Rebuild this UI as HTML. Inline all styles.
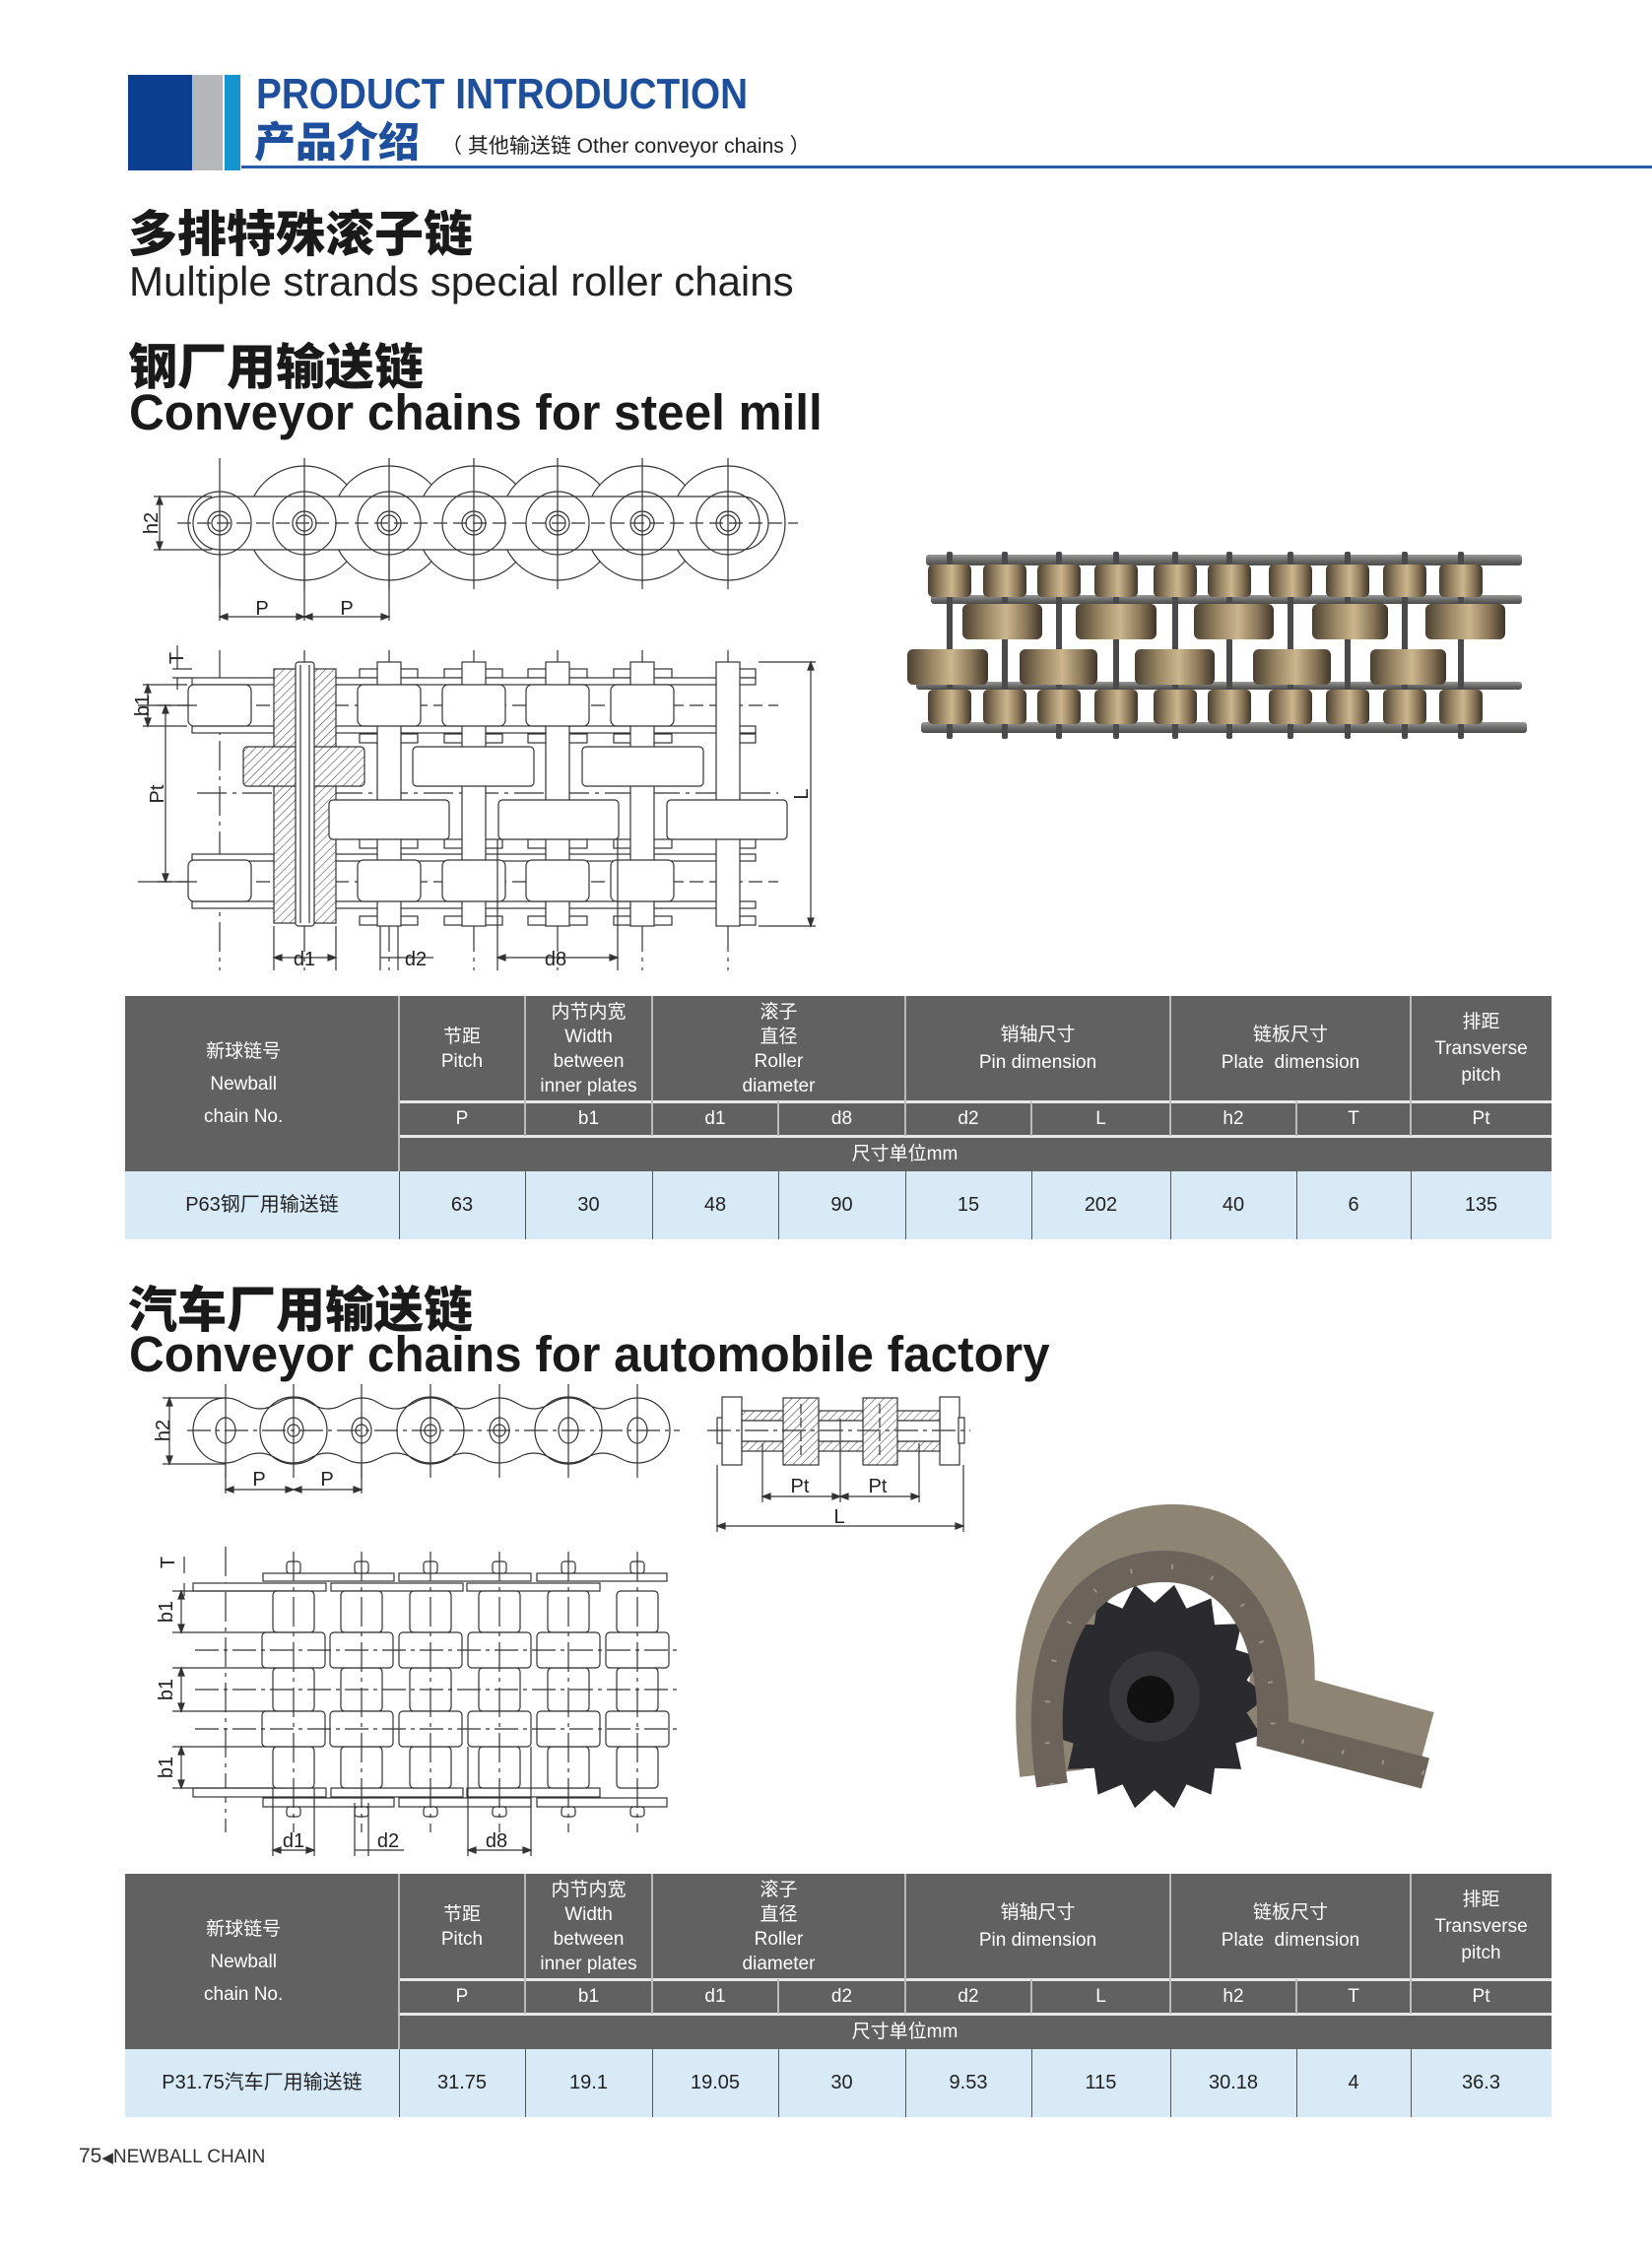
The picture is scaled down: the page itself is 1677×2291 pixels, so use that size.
<!DOCTYPE html>
<html><head><meta charset="utf-8">
<style>
*{margin:0;padding:0;box-sizing:border-box}
body{width:1677px;height:2291px;position:relative;background:#fff;overflow:hidden;font-family:"Liberation Sans","Noto Sans CJK SC",sans-serif;color:#222}
.a{position:absolute;white-space:nowrap}
.cn{font-family:"Noto Sans CJK SC","WenQuanYi Zen Hei",sans-serif;font-weight:900}
.tbl{position:absolute;left:127px;width:1448px;height:247px}
.hd{position:absolute;background:#616161}
.c{position:absolute;display:flex;flex-direction:column;align-items:center;justify-content:center;text-align:center;color:#fff;font:19px/25px "Liberation Sans Narrow","Liberation Sans","Noto Sans CJK SC",sans-serif}
.dt{color:#222;font-size:20px}
.ln{position:absolute;background:#e8e8e8}
.dl{position:absolute;background:#555;width:1px}
svg text{font-family:"Liberation Sans",sans-serif;font-size:20px;fill:#222}
</style></head><body>

<div class="a" style="left:130px;top:76px;width:65px;height:97px;background:#0c3f8f"></div>
<div class="a" style="left:195px;top:76px;width:31px;height:97px;background:#b5b7ba"></div>
<div class="a" style="left:228px;top:76px;width:16px;height:97px;background:#1495cf"></div>
<div class="a" style="left:245px;top:168px;width:1432px;height:3px;background:#2a5aa8"></div>
<div class="a" style="left:260px;top:74px;font:bold 44px/44px 'Liberation Sans',sans-serif;color:#1d4f9c;transform:scaleX(0.88);transform-origin:0 0">PRODUCT INTRODUCTION</div>
<div class="a cn" style="left:258px;top:116px;font-size:42px;line-height:52px;color:#1d4f9c">产品介绍</div>
<div class="a" style="left:448px;top:136px;font:21px/26px 'Liberation Sans','Noto Sans CJK SC',sans-serif;color:#222">（ 其他输送链 Other conveyor chains ）</div>

<div class="a cn" style="left:130px;top:203px;font-size:50px;line-height:62px;color:#1a1a1a">多排特殊滚子链</div>
<div class="a" style="left:131px;top:262px;font:42px/48px 'Liberation Sans',sans-serif;color:#222">Multiple strands special roller chains</div>
<div class="a cn" style="left:130px;top:338px;font-size:50px;line-height:62px;color:#1a1a1a">钢厂用输送链</div>
<div class="a" style="left:131px;top:391px;font:bold 51px/56px 'Liberation Sans',sans-serif;color:#1a1a1a;transform:scaleX(0.97);transform-origin:0 0">Conveyor chains for steel mill</div>

<div class="a cn" style="left:130px;top:1295px;font-size:50px;line-height:62px;color:#1a1a1a">汽车厂用输送链</div>
<div class="a" style="left:131px;top:1347px;font:bold 51px/56px 'Liberation Sans',sans-serif;color:#1a1a1a;transform:scaleX(0.97);transform-origin:0 0">Conveyor chains for automobile factory</div>

<div class="tbl" style="top:1011px">
 <div class="hd" style="left:0;top:0;width:1448px;height:178px"></div>
 <div class="a" style="left:0;top:178px;width:1448px;height:69px;background:#d8eaf6"></div>
 <div class="ln" style="left:278px;top:106px;width:1170px;height:3px"></div>
 <div class="ln" style="left:278px;top:141px;width:1170px;height:3px"></div>
 <div class="ln" style="left:277px;top:0;width:2px;height:178px;background:#bbb"></div>
 <div class="ln" style="left:405px;top:0;width:2px;height:142px;background:#bbb"></div>
 <div class="ln" style="left:534px;top:0;width:2px;height:142px;background:#bbb"></div>
 <div class="ln" style="left:662px;top:107px;width:2px;height:35px;background:#bbb"></div>
 <div class="ln" style="left:791px;top:0;width:2px;height:142px;background:#bbb"></div>
 <div class="ln" style="left:919px;top:107px;width:2px;height:35px;background:#bbb"></div>
 <div class="ln" style="left:1060px;top:0;width:2px;height:142px;background:#bbb"></div>
 <div class="ln" style="left:1188px;top:107px;width:2px;height:35px;background:#bbb"></div>
 <div class="ln" style="left:1304px;top:0;width:2px;height:142px;background:#bbb"></div>
 <div class="dl" style="left:278px;top:178px;height:69px"></div><div class="dl" style="left:406px;top:178px;height:69px"></div><div class="dl" style="left:535px;top:178px;height:69px"></div><div class="dl" style="left:663px;top:178px;height:69px"></div><div class="dl" style="left:792px;top:178px;height:69px"></div><div class="dl" style="left:920px;top:178px;height:69px"></div><div class="dl" style="left:1061px;top:178px;height:69px"></div><div class="dl" style="left:1189px;top:178px;height:69px"></div><div class="dl" style="left:1305px;top:178px;height:69px"></div>
 <div class="c" style="left:80px;top:0;width:198px;height:178px;align-items:flex-start;line-height:33px">新球链号<br>Newball<br>chain No.</div>
 <div class="c" style="left:278px;top:0;width:128px;height:107px">节距<br>Pitch</div>
 <div class="c" style="left:406px;top:0;width:129px;height:107px">内节内宽<br>Width<br>between<br>inner plates</div>
 <div class="c" style="left:535px;top:0;width:257px;height:107px">滚子<br>直径<br>Roller<br>diameter</div>
 <div class="c" style="left:792px;top:0;width:269px;height:107px;line-height:28px">销轴尺寸<br>Pin dimension</div>
 <div class="c" style="left:1061px;top:0;width:244px;height:107px;line-height:28px">链板尺寸<br>Plate&nbsp; dimension</div>
 <div class="c" style="left:1305px;top:0;width:143px;height:107px;line-height:27px">排距<br>Transverse<br>pitch</div>
 <div class="c" style="left:278px;top:107px;width:128px;height:35px">P</div>
 <div class="c" style="left:406px;top:107px;width:129px;height:35px">b1</div>
 <div class="c" style="left:535px;top:107px;width:128px;height:35px">d1</div>
 <div class="c" style="left:663px;top:107px;width:129px;height:35px">d8</div>
 <div class="c" style="left:792px;top:107px;width:128px;height:35px">d2</div>
 <div class="c" style="left:920px;top:107px;width:141px;height:35px">L</div>
 <div class="c" style="left:1061px;top:107px;width:128px;height:35px">h2</div>
 <div class="c" style="left:1189px;top:107px;width:116px;height:35px">T</div>
 <div class="c" style="left:1305px;top:107px;width:143px;height:35px">Pt</div>
 <div class="c" style="left:278px;top:142px;width:1027px;height:36px">尺寸单位mm</div>
 <div class="c dt" style="left:0;top:178px;width:278px;height:69px">P63钢厂用输送链</div>
 <div class="c dt" style="left:278px;top:178px;width:128px;height:69px">63</div>
 <div class="c dt" style="left:406px;top:178px;width:129px;height:69px">30</div>
 <div class="c dt" style="left:535px;top:178px;width:128px;height:69px">48</div>
 <div class="c dt" style="left:663px;top:178px;width:129px;height:69px">90</div>
 <div class="c dt" style="left:792px;top:178px;width:128px;height:69px">15</div>
 <div class="c dt" style="left:920px;top:178px;width:141px;height:69px">202</div>
 <div class="c dt" style="left:1061px;top:178px;width:128px;height:69px">40</div>
 <div class="c dt" style="left:1189px;top:178px;width:116px;height:69px">6</div>
 <div class="c dt" style="left:1305px;top:178px;width:143px;height:69px">135</div>
</div>

<div class="tbl" style="top:1902px">
 <div class="hd" style="left:0;top:0;width:1448px;height:178px"></div>
 <div class="a" style="left:0;top:178px;width:1448px;height:69px;background:#d8eaf6"></div>
 <div class="ln" style="left:278px;top:106px;width:1170px;height:3px"></div>
 <div class="ln" style="left:278px;top:141px;width:1170px;height:3px"></div>
 <div class="ln" style="left:277px;top:0;width:2px;height:178px;background:#bbb"></div>
 <div class="ln" style="left:405px;top:0;width:2px;height:142px;background:#bbb"></div>
 <div class="ln" style="left:534px;top:0;width:2px;height:142px;background:#bbb"></div>
 <div class="ln" style="left:662px;top:107px;width:2px;height:35px;background:#bbb"></div>
 <div class="ln" style="left:791px;top:0;width:2px;height:142px;background:#bbb"></div>
 <div class="ln" style="left:919px;top:107px;width:2px;height:35px;background:#bbb"></div>
 <div class="ln" style="left:1060px;top:0;width:2px;height:142px;background:#bbb"></div>
 <div class="ln" style="left:1188px;top:107px;width:2px;height:35px;background:#bbb"></div>
 <div class="ln" style="left:1304px;top:0;width:2px;height:142px;background:#bbb"></div>
 <div class="dl" style="left:278px;top:178px;height:69px"></div><div class="dl" style="left:406px;top:178px;height:69px"></div><div class="dl" style="left:535px;top:178px;height:69px"></div><div class="dl" style="left:663px;top:178px;height:69px"></div><div class="dl" style="left:792px;top:178px;height:69px"></div><div class="dl" style="left:920px;top:178px;height:69px"></div><div class="dl" style="left:1061px;top:178px;height:69px"></div><div class="dl" style="left:1189px;top:178px;height:69px"></div><div class="dl" style="left:1305px;top:178px;height:69px"></div>
 <div class="c" style="left:80px;top:0;width:198px;height:178px;align-items:flex-start;line-height:33px">新球链号<br>Newball<br>chain No.</div>
 <div class="c" style="left:278px;top:0;width:128px;height:107px">节距<br>Pitch</div>
 <div class="c" style="left:406px;top:0;width:129px;height:107px">内节内宽<br>Width<br>between<br>inner plates</div>
 <div class="c" style="left:535px;top:0;width:257px;height:107px">滚子<br>直径<br>Roller<br>diameter</div>
 <div class="c" style="left:792px;top:0;width:269px;height:107px;line-height:28px">销轴尺寸<br>Pin dimension</div>
 <div class="c" style="left:1061px;top:0;width:244px;height:107px;line-height:28px">链板尺寸<br>Plate&nbsp; dimension</div>
 <div class="c" style="left:1305px;top:0;width:143px;height:107px;line-height:27px">排距<br>Transverse<br>pitch</div>
 <div class="c" style="left:278px;top:107px;width:128px;height:35px">P</div>
 <div class="c" style="left:406px;top:107px;width:129px;height:35px">b1</div>
 <div class="c" style="left:535px;top:107px;width:128px;height:35px">d1</div>
 <div class="c" style="left:663px;top:107px;width:129px;height:35px">d2</div>
 <div class="c" style="left:792px;top:107px;width:128px;height:35px">d2</div>
 <div class="c" style="left:920px;top:107px;width:141px;height:35px">L</div>
 <div class="c" style="left:1061px;top:107px;width:128px;height:35px">h2</div>
 <div class="c" style="left:1189px;top:107px;width:116px;height:35px">T</div>
 <div class="c" style="left:1305px;top:107px;width:143px;height:35px">Pt</div>
 <div class="c" style="left:278px;top:142px;width:1027px;height:36px">尺寸单位mm</div>
 <div class="c dt" style="left:0;top:178px;width:278px;height:69px">P31.75汽车厂用输送链</div>
 <div class="c dt" style="left:278px;top:178px;width:128px;height:69px">31.75</div>
 <div class="c dt" style="left:406px;top:178px;width:129px;height:69px">19.1</div>
 <div class="c dt" style="left:535px;top:178px;width:128px;height:69px">19.05</div>
 <div class="c dt" style="left:663px;top:178px;width:129px;height:69px">30</div>
 <div class="c dt" style="left:792px;top:178px;width:128px;height:69px">9.53</div>
 <div class="c dt" style="left:920px;top:178px;width:141px;height:69px">115</div>
 <div class="c dt" style="left:1061px;top:178px;width:128px;height:69px">30.18</div>
 <div class="c dt" style="left:1189px;top:178px;width:116px;height:69px">4</div>
 <div class="c dt" style="left:1305px;top:178px;width:143px;height:69px">36.3</div>
</div>

<div class="a" style="left:80px;top:2176px;font:21px/26px 'Liberation Sans',sans-serif;color:#333">75<span style="font-size:15px">◀</span><span style="font-size:19px">NEWBALL CHAIN</span></div>

<svg id="d" class="a" style="left:0;top:0" width="1677" height="2291" viewBox="0 0 1677 2291">
<defs>
<pattern id="ht" width="6" height="6" patternUnits="userSpaceOnUse" patternTransform="rotate(45)"><rect width="6" height="6" fill="#fff"/><line x1="0" y1="0" x2="0" y2="6" stroke="#333" stroke-width="1"/></pattern>
<linearGradient id="br" x1="0" x2="1" y1="0" y2="0"><stop offset="0" stop-color="#4a4032"/><stop offset=".3" stop-color="#9a8664"/><stop offset=".55" stop-color="#cbb68e"/><stop offset=".8" stop-color="#8a7658"/><stop offset="1" stop-color="#3e3529"/></linearGradient>
<linearGradient id="pl" x1="0" x2="0" y1="0" y2="1"><stop offset="0" stop-color="#9a9a98"/><stop offset=".5" stop-color="#6d6d6b"/><stop offset="1" stop-color="#4a4a48"/></linearGradient>
</defs>
<g id="g1" fill="none" stroke="#333" stroke-width="1.2"></g>
<g id="g2"></g>
<g>
<text x="160" y="531" transform="rotate(-90 160 531)" text-anchor="middle">h2</text>
<text x="266" y="624" text-anchor="middle">P</text>
<text x="352" y="624" text-anchor="middle">P</text>
<text x="186" y="668" transform="rotate(-90 186 668)" text-anchor="middle">T</text>
<text x="151" y="716" transform="rotate(-90 151 716)" text-anchor="middle">b1</text>
<text x="166" y="806" transform="rotate(-90 166 806)" text-anchor="middle">Pt</text>
<text x="820" y="806" transform="rotate(-90 820 806)" text-anchor="middle">L</text>
<text x="309" y="980" text-anchor="middle">d1</text>
<text x="422" y="980" text-anchor="middle">d2</text>
<text x="564" y="980" text-anchor="middle">d8</text>
<text x="172" y="1452" transform="rotate(-90 172 1452)" text-anchor="middle">h2</text>
<text x="263" y="1508" text-anchor="middle">P</text>
<text x="332" y="1508" text-anchor="middle">P</text>
<text x="812" y="1515" text-anchor="middle">Pt</text>
<text x="891" y="1515" text-anchor="middle">Pt</text>
<text x="852" y="1546" text-anchor="middle">L</text>
<text x="177" y="1586" transform="rotate(-90 177 1586)" text-anchor="middle">T</text>
<text x="175" y="1636" transform="rotate(-90 175 1636)" text-anchor="middle">b1</text>
<text x="175" y="1715" transform="rotate(-90 175 1715)" text-anchor="middle">b1</text>
<text x="175" y="1794" transform="rotate(-90 175 1794)" text-anchor="middle">b1</text>
<text x="298" y="1875" text-anchor="middle">d1</text>
<text x="394" y="1875" text-anchor="middle">d2</text>
<text x="504" y="1875" text-anchor="middle">d8</text>
</g>
</svg>
<script>
var g=document.getElementById('g1'),s='';
function L(a,b,c,d,e){s+='<line x1="'+a+'" y1="'+b+'" x2="'+c+'" y2="'+d+'"'+(e?' stroke-dasharray="'+e+'"':'')+'/>';}
function R(x,y,w,h,f,rx){s+='<rect x="'+x+'" y="'+y+'" width="'+w+'" height="'+h+'" rx="'+(rx||0)+'" fill="'+(f||'#fff')+'"/>';}
function C(x,y,r,f){s+='<circle cx="'+x+'" cy="'+y+'" r="'+r+'" fill="'+(f||'none')+'"/>';}
function A(x1,y,x2){L(x1,y,x2,y);s+='<path d="M'+x1+' '+y+'l8 -3v6zM'+x2+' '+y+'l-8 -3v6z" fill="#333"/>';}
function V(x,y1,y2){L(x,y1,x,y2);s+='<path d="M'+x+' '+y1+'l-3 8h6zM'+x+' '+y2+'l-3 -8h6z" fill="#333"/>';}
var P=[223,309,395,481,566,652,739];
for(var i=1;i<7;i++)C(P[i],531,58,'#fff');
s+='<path d="M753 504H223A27 27 0 0 0 223 558H753A27 27 0 0 0 753 504Z" fill="#fff"/>';
for(i=0;i<7;i++){C(P[i],531,32);C(P[i],531,12);C(P[i],531,8);L(P[i],465,P[i],598);}
L(180,531,810,531,'14 6');
L(223,560,223,630);L(309,560,309,630);L(395,560,395,630);A(223,626,309);A(309,626,395);
L(156,504,215,504);L(156,558,215,558);V(162,504,558);
var Q=[395,481,566,652];
L(160,716,790,716,'14 6');L(160,895,790,895,'14 6');L(200,805,790,805,'30 6 4 6');
for(i=0;i<7;i++)L(P[i],660,P[i],985,'30 6 4 6');
[[365,424],[451,510],[536,596],[623,682],[729,767]].forEach(function(p){R(p[0],679,p[1]-p[0],9);R(p[0],930,p[1]-p[0],9);R(p[0],745,p[1]-p[0],9);R(p[0],852,p[1]-p[0],9);});
R(195,688,572,7);R(195,737,572,7);R(195,867,572,7);R(195,915,572,7);
Q.concat([739]).forEach(function(x){R(x-12,672,24,268);});
[223].concat(Q).forEach(function(x){R(x-32,695,64,42,'#fff',6);R(x-32,873,64,42,'#fff',6);});
R(278,679,63,258,'url(#ht)');
R(247,758,123,40,'url(#ht)',4);R(419,758,123,40,'#fff',4);R(591,758,123,40,'#fff',4);
R(334,812,122,40,'#fff',4);R(506,812,122,40,'#fff',4);R(677,812,122,40,'#fff',4);
R(300,672,19,268,'#fff',3);L(305,675,305,937);L(314,675,314,937);
L(770,672,828,672);L(770,940,828,940);V(823,672,940);
L(140,716,200,716);L(140,895,200,895);V(168,716,895);
L(145,695,190,695);L(145,737,190,737);V(150,695,737);
L(175,679,195,679);L(175,688,195,688);L(180,655,180,679);L(180,688,180,700);
L(278,940,278,985);L(341,940,341,985);A(278,972,341);
L(386,940,386,985);L(404,940,404,985);L(386,972,404,972);L(404,972,440,972);
L(505,852,505,985);L(627,852,627,985);A(505,972,627);
var X=[229,298,367,437,507,577,647],d='M196 1452A33 33 0 0 1 229 1419';
for(i=0;i<6;i++){var x=X[i];d+='C'+(x+16)+' 1419 '+(x+20)+' 1430 '+(x+35)+' 1430C'+(x+50)+' 1430 '+(x+54)+' 1419 '+(x+70)+' 1419';}
d+='A33 33 0 0 1 647 1485';
for(i=6;i>0;i--){var x=X[i];d+='C'+(x-16)+' 1485 '+(x-20)+' 1475 '+(x-35)+' 1475C'+(x-50)+' 1475 '+(x-54)+' 1485 '+(x-70)+' 1485';}
d+='A33 33 0 0 1 196 1452Z';s+='<path d="'+d+'" fill="#fff"/>';
[298,437,577].forEach(function(x){C(x,1452,34);});
X.forEach(function(x){s+='<ellipse cx="'+x+'" cy="'+1452+'" rx="10" ry="13"/>';L(x,1405,x,1500);});
[298,367,437,507].forEach(function(x){C(x,1452,6);});
L(190,1452,690,1452,'24 5 4 5');
L(165,1419,229,1419);L(165,1486,229,1486);V(172,1419,1486);
A(229,1512,298);A(298,1512,367);L(367,1486,367,1516);L(229,1486,229,1516);
R(728,1439,6,26);R(733,1418,20,69);R(954,1418,20,69);R(973,1439,6,26);
R(753,1432,201,10,'url(#ht)');R(753,1463,201,10,'url(#ht)');R(753,1442,201,21);
R(795,1419,36,68,'url(#ht)');R(876,1419,35,68,'url(#ht)');
L(718,1452,985,1452,'24 5 4 5');L(813,1425,813,1480,'10 4');L(893,1425,893,1480,'10 4');
L(774,1465,774,1525);L(853,1440,853,1525);L(933,1465,933,1525);A(774,1519,853);A(853,1519,933);
L(728,1487,728,1555);L(978,1487,978,1555);A(728,1549,978);
var Y=[298,367,437,507,577,647];
L(229,1570,229,1860,'30 6 4 6');
[[267,400],[405,539],[545,677]].forEach(function(p){R(p[0],1597,p[1]-p[0],8);R(p[0],1825,p[1]-p[0],9);});
[[196,331],[336,470],[474,609]].forEach(function(p){R(p[0],1607,p[1]-p[0],8);R(p[0],1815,p[1]-p[0],9);});
L(175,1615,290,1615);L(175,1657,290,1657);L(175,1693,290,1693);L(175,1737,290,1737);L(175,1773,290,1773);L(175,1815,290,1815);
Y.forEach(function(x){R(x-7,1585,14,12,'#fff',3);R(x-7,1834,14,10,'#fff',3);
 R(x-21,1615,42,42,'#fff',4);R(x-21,1693,42,44,'#fff',4);R(x-21,1773,42,42,'#fff',4);
 R(x-32,1657,64,36,'#fff',4);R(x-32,1737,64,36,'#fff',4);L(x,1575,x,1860,'30 6 4 6');});
L(198,1675,690,1675,'24 5 4 5');L(198,1715,690,1715,'24 5 4 5');L(198,1755,690,1755,'24 5 4 5');
V(184,1615,1657);V(184,1693,1737);V(184,1773,1815);L(187,1580,187,1597);L(187,1607,187,1620);
L(277,1815,277,1884);L(319,1815,319,1884);A(277,1878,319);
L(360,1830,360,1884);L(374,1830,374,1884);L(360,1878,374,1878);L(374,1878,410,1878);
L(475,1773,475,1884);L(539,1773,539,1884);A(475,1878,539);
g.innerHTML=s;
var t='';
function RR(x,y,w,h,f,rx,o){t+='<rect x="'+x+'" y="'+y+'" width="'+w+'" height="'+h+'" rx="'+(rx||0)+'" fill="'+f+'"'+(o||'')+'/>';}
RR(940,563,605,11,'url(#pl)',3);RR(945,604,600,9,'url(#pl)',3);RR(930,692,615,8,'url(#pl)',3);RR(935,733,615,11,'url(#pl)',3);
[964,1020,1075,1133,1193,1248,1310,1368,1426,1483].forEach(function(x){RR(x-3,560,6,190,'#4a4a4c',2);RR(x-22,573,44,33,'url(#br)',5);RR(x-22,700,44,35,'url(#br)',5);});
[[977,1058],[1092,1174],[1212,1293],[1332,1409],[1447,1528]].forEach(function(p){RR(p[0],613,p[1]-p[0],36,'url(#br)',6);});
[[921,1003],[1035,1114],[1152,1233],[1272,1351],[1391,1468]].forEach(function(p){RR(p[0],659,p[1]-p[0],36,'url(#br)',6);});
var tp='';for(i=0;i<36;i++){var an=i*Math.PI/18,r=(i%2?95:115);tp+=(i?'L':'M')+(1172+r*Math.cos(an)).toFixed(1)+' '+(1722+r*Math.sin(an)).toFixed(1);}
t+='<path d="M1068 1800C1048 1630 1110 1560 1190 1560C1275 1560 1310 1640 1300 1730L1447 1770" fill="none" stroke="#8e8474" stroke-width="66"/>';
t+='<path d="'+tp+'Z" fill="#2b2b2f"/><circle cx="1172" cy="1722" r="46" fill="#38383c"/><circle cx="1168" cy="1725" r="24" fill="#111"/>';
t+='<path d="M1068 1812C1045 1665 1100 1592 1180 1590C1265 1590 1295 1670 1292 1760L1447 1800" fill="none" stroke="#6c645a" stroke-width="32"/>';
t+='<path d="M1068 1812C1045 1665 1100 1592 1180 1590C1265 1590 1295 1670 1292 1760L1447 1800" fill="none" stroke="#9a9288" stroke-width="5" stroke-dasharray="2 40"/>';
document.getElementById('g2').innerHTML=t;
</script>
</body></html>
